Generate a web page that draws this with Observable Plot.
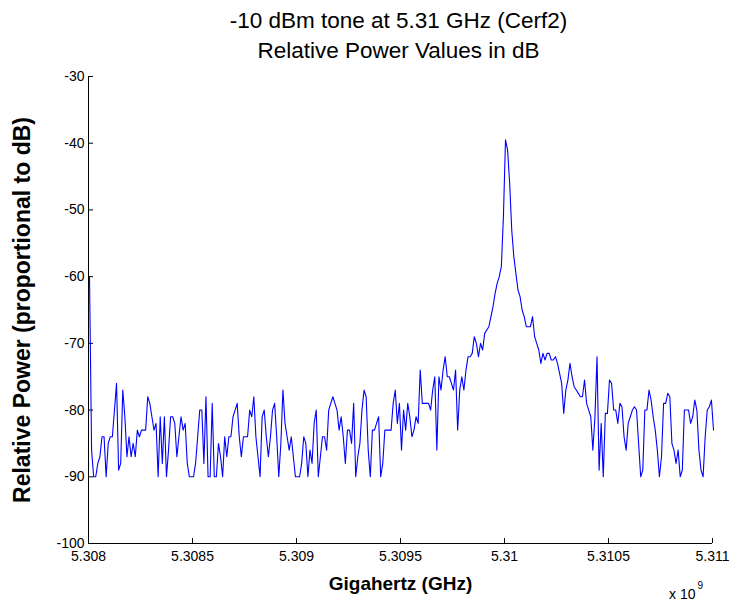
<!DOCTYPE html>
<html>
<head>
<meta charset="utf-8">
<script src="https://cdn.jsdelivr.net/npm/d3@7"></script>
<script src="https://cdn.jsdelivr.net/npm/@observablehq/plot@0.6"></script>
<style>
  html, body { margin: 0; padding: 0; background: #fff; }
  #chart svg { display: block; }
</style>
</head>
<body>
<div id="chart"></div>
<script>
// ---- Data ----
const titleLines = ["-10 dBm tone at 5.31 GHz (Cerf2)", "Relative Power Values in dB"];
const xLabel = "Gigahertz (GHz)";
const yLabel = "Relative Power (proportional to dB)";
const exponentBase = "x 10";
const exponentPower = "9";

// frequency bins: start and spacing (Hz)
const freqStart = 5.308e9;
const freqStep = 1e4;

// relative power (dB), one value per frequency bin
const powerDb = [
  -60,-86,-90,-90,-88,-87,-84,-84,-90,-85,
  -84,-84,-80,-76,-89,-88,-77,-81,-87,-84,
  -87,-85,-87,-83,-84,-83,-83,-83,-78,-79,
  -81,-83,-82,-90,-81,-88,-81,-90,-86,-81,
  -81,-82,-87,-84,-81,-83,-82,-88,-90,-90,
  -90,-88,-84,-80,-80,-88,-78,-90,-90,-79,
  -90,-90,-85,-87,-90,-84,-87,-84,-84,-81,
  -80,-79,-84,-87,-84,-84,-84,-80,-81,-78,
  -84,-87,-90,-81,-80,-84,-87,-84,-80,-79,
  -84,-90,-85,-77,-82,-84,-86,-84,-87,-90,
  -90,-90,-88,-84,-85,-90,-86,-88,-82,-80,
  -90,-87,-84,-84,-86,-80,-79,-78,-79,-80,
  -83,-81,-84,-88,-83,-83,-85,-79,-90,-87,
  -85,-80,-77,-78,-86,-90,-83,-83,-82,-81,
  -90,-88,-83,-83,-83,-83,-79,-77,-82,-79,
  -86,-80,-83,-79,-81,-84,-83,-81,-82,-74,
  -79,-79,-79,-79,-80,-77,-75,-86,-75,-77,
  -74,-72,-75,-75,-76,-77,-74,-83,-77,-75,
  -77,-74,-72,-72,-71.5,-69,-70,-72,-70,-71,
  -68.5,-68,-67.5,-66,-64.5,-62.5,-61,-60,-58.5,-51,
  -39.5,-41,-46,-53,-57,-59.5,-62,-63,-65,-66,
  -67.5,-67.5,-67.5,-66,-69,-70,-71,-73,-71.5,-72.5,
  -71.5,-71.5,-72.5,-72.5,-72,-73,-74.5,-76,-80.5,-77,
  -75.5,-73,-75,-76.5,-77,-77.5,-78,-78,-75.5,-79,
  -80,-81,-86,-81,-72,-89,-82,-90,-80.5,-80.5,
  -75.5,-76,-80,-80,-82,-79,-79.5,-84,-86,-82,
  -81,-80,-79.5,-80,-85,-90,-89,-80,-80,-77,
  -78.5,-81,-83,-86,-90,-87,-79,-79,-77.5,-78,
  -85,-86,-88,-86,-90,-89,-80,-80,-80,-82,
  -81,-78.5,-80,-86,-89,-90,-84,-80,-79.5,-78.5,
  -83
];

const xTicks = [5.308e9, 5.3085e9, 5.309e9, 5.3095e9, 5.31e9, 5.3105e9, 5.311e9];
const xTickLabels = ["5.308", "5.3085", "5.309", "5.3095", "5.31", "5.3105", "5.311"];
const yTicks = [-100, -90, -80, -70, -60, -50, -40, -30];
const yTickLabels = ["-100", "-90", "-80", "-70", "-60", "-50", "-40", "-30"];

// ---- Table for the library ----
const table = powerDb.map((p, i) => ({freq: freqStart + i * freqStep, power: p}));

const chart = Plot.plot({
  width: 733,
  height: 604,
  marginLeft: 88,
  marginRight: 21,
  marginTop: 76,
  marginBottom: 61,
  style: {fontFamily: "'Liberation Sans', Arial, Helvetica, sans-serif", fontSize: "14px", background: "#fff", color: "#000"},
  x: {domain: [xTicks[0], xTicks[xTicks.length - 1]], label: null},
  y: {domain: [yTicks[0], yTicks[yTicks.length - 1]], label: null},
  marks: [
    Plot.ruleX([xTicks[0]], {stroke: "#000"}),
    Plot.ruleY([yTicks[0]], {stroke: "#000"}),
    Plot.axisX(xTicks, {tickSize: -5, tickPadding: 13, label: null, fontSize: 14,
      tickFormat: d => xTickLabels[xTicks.indexOf(d)]}),
    Plot.axisY(yTicks, {tickSize: -5, tickPadding: 9, label: null, fontSize: 14,
      tickFormat: d => yTickLabels[yTicks.indexOf(d)]}),
    Plot.line(table, {x: "freq", y: "power", stroke: "#0000ff", strokeWidth: 1.1, dx: 1}),
    Plot.text([titleLines[0]], {text: d => d, frameAnchor: "top", lineAnchor: "middle", dx: -2, dy: -56, fontSize: 22.5}),
    Plot.text([titleLines[1]], {text: d => d, frameAnchor: "top", lineAnchor: "middle", dx: -2, dy: -26, fontSize: 22.5}),
    Plot.text([xLabel], {text: d => d, frameAnchor: "bottom", lineAnchor: "middle", dy: 40, fontSize: 19, fontWeight: "bold"}),
    Plot.text([yLabel], {text: d => d, frameAnchor: "left", textAnchor: "middle", lineAnchor: "middle", dx: -66, rotate: -90, fontSize: 23, fontWeight: "bold"}),
    Plot.text([exponentBase], {text: d => d, frameAnchor: "bottom-right", textAnchor: "end", lineAnchor: "middle", dx: -17, dy: 51, fontSize: 14}),
    Plot.text([exponentPower], {text: d => d, frameAnchor: "bottom-right", textAnchor: "start", lineAnchor: "middle", dx: -15, dy: 42, fontSize: 10})
  ]
});
document.getElementById("chart").appendChild(chart);
</script>
</body>
</html>
